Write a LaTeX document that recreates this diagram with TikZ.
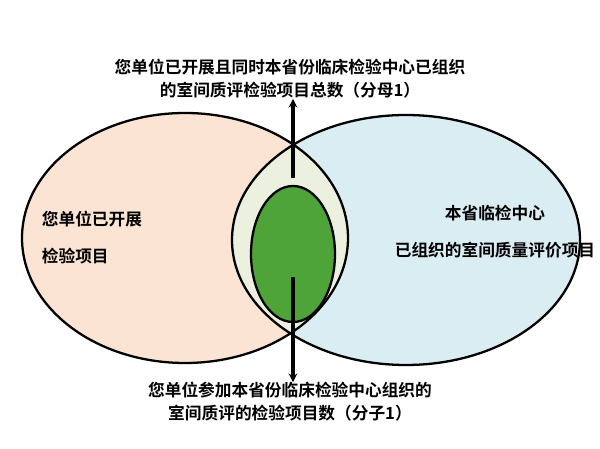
\documentclass[tikz,border=0pt]{standalone}
\usepackage{fontspec}
\setmainfont{Noto Sans CJK SC Bold}
\usetikzlibrary{arrows.meta}

\tikzset{
	venn/.style={draw=black, line width=1.3pt},
	lbl/.style={font=\fontsize{9.5}{13}\selectfont, align=center, inner sep=0pt},
	pointer/.style={line width=2.2pt, -{Stealth[length=5pt,width=5pt]}}
}

\begin{document}
\begin{tikzpicture}[x=0.02cm, y=-0.02cm]
	\useasboundingbox (0,0) rectangle (600,449);
	% the two sets
	\fill[fill={rgb,255:red,252;green,228;blue,212}] (185,238) ellipse (163 and 125);
	\fill[fill={rgb,255:red,218;green,237;blue,243}] (406,240) ellipse (174 and 125);
	\begin{scope}
		\clip (185,238) ellipse (163 and 125);
		\fill[fill={rgb,255:red,235;green,241;blue,222}] (406,240) ellipse (174 and 125);
	\end{scope}
	\draw[venn] (185,238) ellipse (163 and 125);
	\draw[venn] (406,240) ellipse (174 and 125);
	\draw[venn, fill={rgb,255:red,78;green,164;blue,56}] (293,254) ellipse (42 and 68);

	\node[lbl] (top) at (290,79) {您单位已开展且同时本省份临床检验中心已组织\\的室间质评检验项目总数（分母1）};
	\node[lbl] (bot) at (290,402) {您单位参加本省份临床检验中心组织的\\室间质评的检验项目数（分子1）};
	\node[lbl, align=left] (lft) at (92,238) {您单位已开展\\[8pt]检验项目};
	\node[lbl] (rgt) at (495,232) {本省临检中心\\[8pt]已组织的室间质量评价项目};

	\coordinate (a) at (293,178);
	\coordinate (b) at (293,277);
	\draw[pointer] (a) -- (top.south -| a);
	\draw[pointer] (b) -- (bot.north -| b);
\end{tikzpicture}
\end{document}
